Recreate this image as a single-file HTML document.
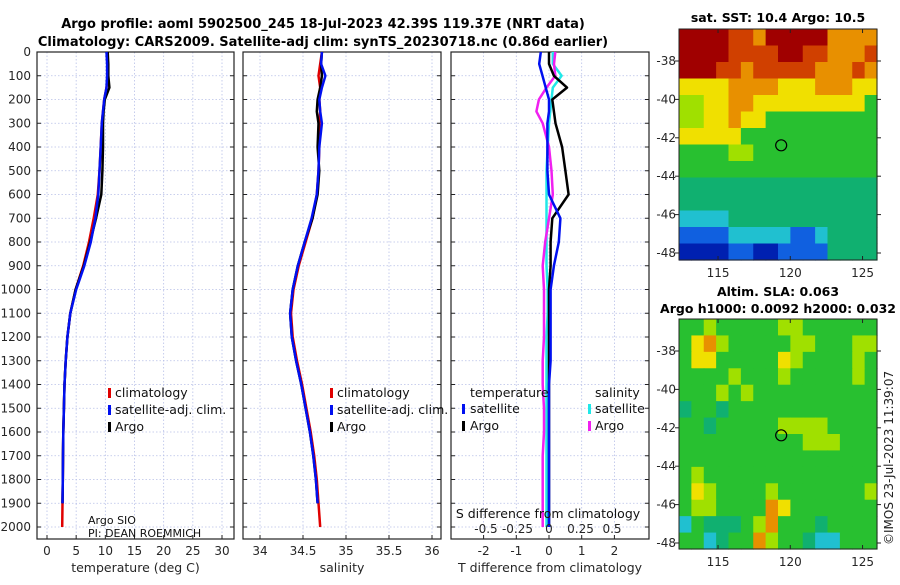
<!DOCTYPE html>
<html><head><meta charset="utf-8"><style>
body{margin:0;background:#fff;width:900px;height:580px;overflow:hidden}
svg{font-family:"DejaVu Sans","Liberation Sans",sans-serif}
</style></head><body>
<svg id="c" width="900" height="580" xmlns="http://www.w3.org/2000/svg">
<text x="323" y="28" font-size="13" font-weight="bold" text-anchor="middle" fill="#000">Argo profile: aoml 5902500_245 18-Jul-2023 42.39S 119.37E (NRT data)</text>
<text x="323" y="46" font-size="13" font-weight="bold" text-anchor="middle" fill="#000">Climatology: CARS2009. Satellite-adj clim: synTS_20230718.nc (0.86d earlier)</text>
<text x="778" y="22" font-size="12.5" font-weight="bold" text-anchor="middle">sat. SST: 10.4 Argo: 10.5</text>
<text x="778" y="296" font-size="12.5" font-weight="bold" text-anchor="middle">Altim. SLA: 0.063</text>
<text x="778" y="313" font-size="12.5" font-weight="bold" text-anchor="middle">Argo h1000: 0.0092 h2000: 0.032</text>
<text transform="translate(893,545) rotate(-90)" font-size="12" fill="#222">©IMOS 23-Jul-2023 11:39:07</text>
</svg>
<script>
const depths=[0,50,100,150,200,250,300,400,500,600,700,800,900,1000,1100,1200,1300,1400,1500,1600,1700,1800,1900,2000];
const tempClim=[10.4,10.4,10.4,10.2,9.8,9.6,9.4,9.2,9.0,8.7,8.0,7.2,6.2,4.9,4.0,3.5,3.2,3.0,2.9,2.8,2.75,2.7,2.65,2.6];
const tempSat=[10.2,10.3,10.3,10.2,9.8,9.6,9.4,9.2,9.0,8.8,8.3,7.5,6.4,5.0,4.0,3.5,3.2,3.0,2.9,2.8,2.75,2.7,2.65,2.6];
const tempArgo=[10.4,10.5,10.5,10.7,9.9,9.7,9.6,9.6,9.5,9.3,8.4,7.4,6.3,4.9,4.0,3.5,3.2,3.0,2.9,2.8,2.75,2.7,2.65,2.6];
const salClim=[34.72,34.70,34.68,34.70,34.69,34.70,34.69,34.69,34.68,34.66,34.61,34.53,34.45,34.39,34.36,34.38,34.43,34.49,34.54,34.59,34.63,34.66,34.68,34.70];
const salSat=[34.72,34.71,34.76,34.72,34.69,34.70,34.72,34.69,34.68,34.66,34.60,34.52,34.44,34.38,34.35,34.37,34.42,34.48,34.53,34.58,34.62,34.65,34.67,34.69];
const salArgo=[34.72,34.71,34.72,34.70,34.67,34.66,34.68,34.67,34.69,34.67,34.61,34.52,34.44,34.38,34.35,34.37,34.42,34.48,34.53,34.58,34.62,34.65,34.67,34.69];
const dTsat=[-0.25,-0.3,-0.2,-0.1,0,0,-0.05,-0.05,-0.05,0,0.35,0.3,0.15,0.05,0.05,0.05,0.05,0,0,0,0,0,0,0];
const dTargo=[0,0,0.15,0.55,0.1,0.15,0.2,0.4,0.5,0.6,0.1,0.05,0.05,0,0,0,0,0,0,0,0,0,0,0];
const dSsat=[0.03,0.03,0.1,0.03,0.02,0.01,0.0,-0.01,-0.02,-0.02,-0.02,-0.02,-0.02,-0.01,-0.01,-0.02,-0.02,-0.02,-0.02,-0.02,-0.02,-0.02,-0.02,-0.02];
const dSargo=[0.05,0.04,0.05,-0.02,-0.08,-0.1,-0.05,0.0,0.02,0.03,0.0,-0.03,-0.05,-0.04,-0.04,-0.04,-0.05,-0.05,-0.04,-0.04,-0.05,-0.05,-0.05,-0.05];
const depthTicks=[0,100,200,300,400,500,600,700,800,900,1000,1100,1200,1300,1400,1500,1600,1700,1800,1900,2000];
const tTicks=[0,5,10,15,20,25,30];
const sTicks=[34,34.5,35,35.5,36];
const dtTicks=[-2,-1,0,1,2];
const dsTicks=[-0.5,-0.25,0,0.25,0.5];
const dsLabels=["-0.5","-0.25","0","0.25","0.5"];
const lonTicks=[115,120,125];
const latTicks=[-38,-40,-42,-44,-46,-48];
const sstGrid=["9999887999997777","9999888899887778","9998878888877787","6666777766677766","5566776666666664","5566766444444444","6666644444444444","4444554444444444","4444444444444444","3333333333333333","3333333333333333","2222333333333333","1111222221123333","0000110011113333"];
const slaGrid=["4454444455444444","4675444445544455","4664444465444454","4444544454444454","4445454444444444","3443444444444444","4434444455554444","4444444444555444","4444444444444444","4544444444444444","4654444544444445","4554444764444444","2433345744434444","4423447544322444"];
const palette=["#0020b0","#1060e0","#20c0d0","#10b070","#28c030","#a0e000","#f0e000","#e89000","#d04000","#a00000"];
const floatLon=119.37, floatLat=-42.39;

const S=document.getElementById('c'),NS='http://www.w3.org/2000/svg';
function mk(t,a,p){const e=document.createElementNS(NS,t);for(const k in a)e.setAttribute(k,a[k]);(p||S).appendChild(e);return e;}
const top0=52,bot=539;
const yD=d=>top0+d*(527-top0)/2000;
function panel(x0,x1,xs,ticks,labels,xlabel,name){
  const g=mk('g',{});
  
  
  ticks.forEach(t=>{mk('line',{x1:xs(t),x2:xs(t),y1:top0,y2:bot,stroke:'#b8c0e8','stroke-width':0.8,'stroke-dasharray':'1.5,2'},g);});
  depthTicks.forEach(d=>{mk('line',{x1:x0,x2:x1,y1:yD(d),y2:yD(d),stroke:'#b8c0e8','stroke-width':0.8,'stroke-dasharray':'1.5,2'},g);
    mk('line',{x1:x0,x2:x0+4,y1:yD(d),y2:yD(d),stroke:'#222'},g);mk('line',{x1:x1,x2:x1-4,y1:yD(d),y2:yD(d),stroke:'#222'},g);});
  ticks.forEach((t,i)=>{mk('line',{x1:xs(t),x2:xs(t),y1:bot,y2:bot-4,stroke:'#222'},g);
    if(labels){const tx=mk('text',{x:xs(t),y:bot+16,'font-size':12,'text-anchor':'middle',fill:'#262626'},g);tx.textContent=labels[i];}});
  mk('rect',{x:x0,y:top0,width:x1-x0,height:bot-top0,fill:'none',stroke:'#222','stroke-width':1.2},g);
  const xl=mk('text',{x:(x0+x1)/2,y:572,'font-size':12.5,'text-anchor':'middle',fill:'#262626'},g);
  
  
  xl.textContent=xlabel;
  return g;
}
function line(xs,vals,color,name,w){const p=vals.map((v,i)=>xs(v).toFixed(1)+','+yD(depths[i]).toFixed(1)).join(' ');
  const e=mk('polyline',{points:p,fill:'none',stroke:color,'stroke-width':w||2.5,'stroke-linejoin':'round'});
  
  }
function txt(x,y,s,name,sz,anchor){const t=mk('text',{x:x,y:y,'font-size':sz||12.5,fill:'#111','text-anchor':anchor||'start'});t.textContent=s;
  
  return t;}
function mark(x,y,c){mk('rect',{x:x,y:y-10,width:3,height:10,fill:c});}

depthTicks.forEach(d=>{const t=mk('text',{x:31,y:yD(d)+4,'font-size':12,'text-anchor':'end',fill:'#262626'});t.textContent=d;
  
  });

const xT=v=>47+v*(222-47)/30;
panel(37,234,xT,tTicks,tTicks.map(String),'temperature (deg C)','temperature-panel');
line(xT,tempClim,'#e00000','temperature-climatology-line');
line(xT,tempArgo.slice(0,23),'#000','temperature-argo-line');
line(xT,tempSat.slice(0,23),'#0010f0','temperature-satellite-line');
mark(108,398,'#e00000');txt(115,397,'climatology','legend-climatology');
mark(108,415,'#0010f0');txt(115,414,'satellite-adj. clim.','legend-satellite-adj');
mark(108,432,'#000');txt(115,431,'Argo','legend-argo');
txt(88,524,'Argo SIO','argo-institution-label',11);
txt(88,537,'PI: DEAN ROEMMICH','pi-name-label',11);

const xS=v=>260+(v-34)*86;
panel(243,441,xS,sTicks,sTicks.map(String),'salinity','salinity-panel');
line(xS,salClim,'#e00000','salinity-climatology-line');
line(xS,salArgo.slice(0,23),'#000','salinity-argo-line');
line(xS,salSat.slice(0,23),'#0010f0','salinity-satellite-line');
mark(330,398,'#e00000');txt(337,397,'climatology','legend-climatology-2');
mark(330,415,'#0010f0');txt(337,414,'satellite-adj. clim.','legend-satellite-adj-2');
mark(330,432,'#000');txt(337,431,'Argo','legend-argo-2');

const xDT=v=>549+v*32.7;
const xDS=v=>549+v*126;
panel(451,649,xDT,dtTicks,dtTicks.map(String),'T difference from climatology','difference-panel');
line(xDS,dSsat,'#20e8e8','salinity-satellite-diff-line',2.5);
line(xDS,dSargo,'#f020f0','salinity-argo-diff-line',2.5);
line(xDT,dTargo,'#000','temperature-argo-diff-line',2.5);
line(xDT,dTsat,'#0010f0','temperature-satellite-diff-line',2.5);
dsTicks.forEach((t,i)=>{txt(xDS(t),533,dsLabels[i],'s-diff-tick-label',12,'middle').setAttribute('fill','#262626');});
txt(548,518,'S difference from climatology','s-diff-axis-title',12.5,'middle');
txt(470,397,'temperature','legend-temperature-header');
txt(595,397,'salinity','legend-salinity-header');
mark(462,414,'#0010f0');txt(470,413,'satellite','legend-temp-satellite');
mark(462,431,'#000');txt(470,430,'Argo','legend-temp-argo');
mark(588,414,'#20e8e8');txt(595,413,'satellite','legend-sal-satellite');
mark(588,431,'#f020f0');txt(595,430,'Argo','legend-sal-argo');

function map(y0,y1,grid,name,latPx){
  const x0=679,x1=877,lonA=112.3,lonB=126.0;
  const xL=l=>x0+(l-lonA)*(x1-x0)/(lonB-lonA);
  const yL=latPx;
  const g=mk('g',{});
  
  
  const rows=grid.length,cols=grid[0].length,cw=(x1-x0)/cols,ch=(y1-y0)/rows;
  grid.forEach((r,i)=>{for(let j=0;j<cols;j++){const c=mk('rect',{x:x0+j*cw,y:y0+i*ch,width:cw+0.6,height:ch+0.6,fill:palette[+r[j]]},g);
    
    }});
  mk('rect',{x:x0,y:y0,width:x1-x0,height:y1-y0,fill:'none',stroke:'#222'},g);
  lonTicks.forEach(l=>{mk('line',{x1:xL(l),x2:xL(l),y1:y1,y2:y1-4,stroke:'#222'},g);mk('line',{x1:xL(l),x2:xL(l),y1:y0,y2:y0+4,stroke:'#222'},g);
    const t=mk('text',{x:xL(l),y:y1+17,'font-size':12,'text-anchor':'middle',fill:'#262626'},g);t.textContent=l;});
  latTicks.forEach(l=>{mk('line',{x1:x1,x2:x1+4,y1:yL(l),y2:yL(l),stroke:'#222'},g);mk('line',{x1:x0,x2:x0-4,y1:yL(l),y2:yL(l),stroke:'#222'},g);
    const t=mk('text',{x:x0-3,y:yL(l)+4,'font-size':12,'text-anchor':'end',fill:'#262626'},g);t.textContent=l;});
  const m=mk('circle',{cx:xL(floatLon),cy:yL(floatLat),r:5.5,fill:'none',stroke:'#000','stroke-width':1.2},g);
  
  
}
map(29,260,sstGrid,'sst-map',l=>61+(-38-l)*19.2);
map(319,549,slaGrid,'sla-map',l=>351+(-38-l)*19.2);
</script>
</body></html>
